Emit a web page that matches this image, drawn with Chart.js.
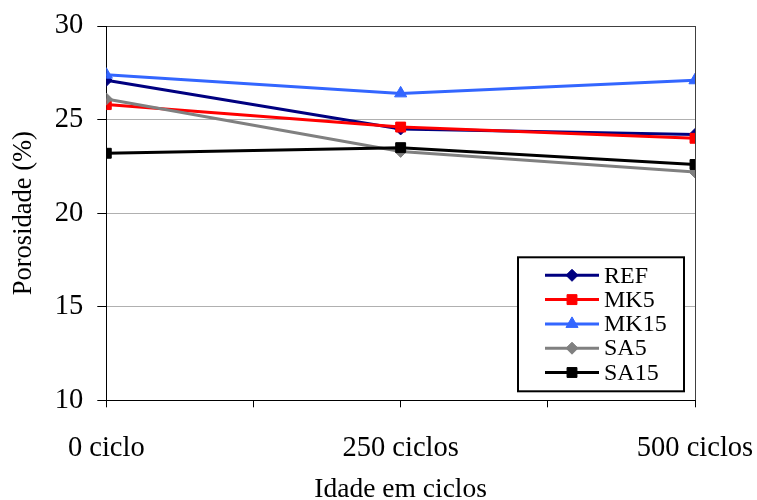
<!DOCTYPE html>
<html>
<head>
<meta charset="utf-8">
<script src="https://cdn.jsdelivr.net/npm/chart.js@4/dist/chart.umd.min.js"></script>
<style>
  html, body { margin: 0; padding: 0; background: #ffffff; }
  #wrap { width: 757px; height: 500px; }
</style>
</head>
<body>
<div id="wrap"><canvas id="c" width="757" height="500"></canvas></div>
<script>
// Porosity (%) after wetting/drying cycles
const cycles = [0, 250, 500];
const categories = ['0 ciclo', '250 ciclos', '500 ciclos'];

const ref  = [27.1, 24.5, 24.2];
const mk5  = [25.8, 24.6, 24.0];
const mk15 = [27.4, 26.4, 27.1];
const sa5  = [26.1, 23.3, 22.2];
const sa15 = [23.2, 23.5, 22.6];

const yTicks = [10, 15, 20, 25, 30];

const FONT = '"Liberation Serif", "Times New Roman", serif';

const seriesDefs = [
  { label: 'REF',  values: ref,  color: '#000080', style: 'rectRot',  r: 6 },
  { label: 'MK5',  values: mk5,  color: '#ff0000', style: 'rect',     r: 7 },
  { label: 'MK15', values: mk15, color: '#3366ff', style: 'triangle', r: 7 },
  { label: 'SA5',  values: sa5,  color: '#808080', style: 'rectRot',  r: 6 },
  { label: 'SA15', values: sa15, color: '#000000', style: 'rect',     r: 7 }
];

const datasets = seriesDefs.map((s, i) => ({
  label: s.label,
  data: cycles.map((c, k) => ({ x: c, y: s.values[k] })),
  borderColor: s.color,
  backgroundColor: s.color,
  borderWidth: 3,
  pointStyle: s.style,
  pointRadius: s.r,
  pointBorderWidth: 1,
  pointBackgroundColor: s.color,
  pointBorderColor: s.color,
  tension: 0,
  // later series sit on top
  order: seriesDefs.length - 1 - i
}));

// Boxed legend drawn inside the plot, bottom-right corner
const boxLegend = {
  id: 'boxLegend',
  afterDraw(chart) {
    const ctx = chart.ctx;
    const area = chart.chartArea;
    const w = 166, h = 134;
    const x0 = area.right - 11 - w;
    const y0 = area.bottom - 9 - h;
    ctx.save();
    ctx.fillStyle = '#ffffff';
    ctx.fillRect(x0, y0, w, h);
    ctx.lineWidth = 2;
    ctx.strokeStyle = '#000000';
    ctx.strokeRect(x0, y0, w, h);
    ctx.font = '24px ' + FONT;
    ctx.textBaseline = 'middle';
    ctx.textAlign = 'left';
    chart.data.datasets.forEach((ds, i) => {
      const yy = y0 + 18 + i * 24.3;
      ctx.strokeStyle = ds.borderColor;
      ctx.lineWidth = 3;
      ctx.beginPath();
      ctx.moveTo(x0 + 27, yy);
      ctx.lineTo(x0 + 81, yy);
      ctx.stroke();
      ctx.fillStyle = ds.pointBackgroundColor;
      ctx.strokeStyle = ds.pointBorderColor;
      ctx.lineWidth = 1;
      Chart.helpers.drawPoint(ctx, { pointStyle: ds.pointStyle, radius: ds.pointRadius, rotation: 0, borderWidth: 1 }, x0 + 54, yy);
      ctx.fillStyle = '#000000';
      ctx.fillText(ds.label, x0 + 86, yy + 1);
    });
    ctx.restore();
  }
};

new Chart(document.getElementById('c'), {
  type: 'line',
  data: { datasets },
  plugins: [boxLegend],
  options: {
    responsive: false,
    animation: false,
    devicePixelRatio: 1,
    layout: { padding: { left: 4, right: 62, top: 26, bottom: 0 } },
    plugins: {
      legend: { display: false },
      tooltip: { enabled: false }
    },
    scales: {
      x: {
        type: 'linear',
        min: cycles[0],
        max: cycles[cycles.length - 1],
        border: { color: '#000000', width: 1 },
        grid: {
          color: (c) => (c.tick && c.tick.value === cycles[cycles.length - 1]) ? '#404040' : 'rgba(0,0,0,0)',
          tickColor: '#000000',
          tickLength: 7,
          lineWidth: 1
        },
        ticks: {
          stepSize: 125,
          autoSkip: false,
          maxRotation: 0,
          padding: 24,
          color: '#000000',
          font: { family: FONT, size: 28.5 },
          callback: (v) => {
            const k = cycles.indexOf(v);
            return k >= 0 ? categories[k] : '';
          }
        },
        afterFit: (scale) => { scale.paddingLeft = 0; scale.paddingRight = 0; },
        title: {
          display: true,
          text: 'Idade em ciclos',
          color: '#000000',
          font: { family: FONT, size: 27.5, lineHeight: 1.0 },
          padding: { top: -13, bottom: -4 }
        }
      },
      y: {
        min: yTicks[0],
        max: yTicks[yTicks.length - 1],
        border: { color: '#000000', width: 1 },
        grid: {
          color: (c) => {
            const v = c.tick && c.tick.value;
            if (v === yTicks[yTicks.length - 1]) return '#404040';
            return '#b0b0b0';
          },
          tickColor: '#000000',
          tickLength: 9,
          lineWidth: 1
        },
        ticks: {
          stepSize: 5,
          padding: 14,
          color: '#000000',
          font: { family: FONT, size: 28.5 }
        },
        afterFit: (scale) => { scale.paddingTop = 0; scale.paddingBottom = 0; },
        title: {
          display: true,
          text: 'Porosidade (%)',
          color: '#000000',
          font: { family: FONT, size: 26.5 },
          padding: { top: 4, bottom: 1 }
        }
      }
    }
  }
});
</script>
</body>
</html>
